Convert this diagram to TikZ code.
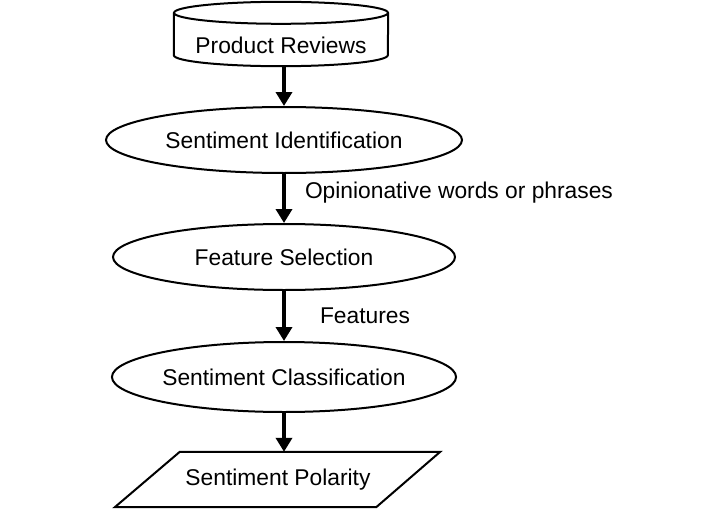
\documentclass[tikz,border=0pt]{standalone}
\usepackage{fontspec}
\setmainfont{Liberation Sans}
\usetikzlibrary{shapes.geometric,arrows.meta}

\begin{document}
\begin{tikzpicture}[x=1pt,y=-1pt,
  every node/.style={font=\fontsize{22.8}{27}\selectfont},
  proc/.style={ellipse,draw,line width=2pt,inner sep=0pt},
  box/.style={inner sep=0pt},
  lbl/.style={inner sep=0pt,anchor=west},
  flow/.style={-{Triangle[width=16pt,length=14pt]},line width=4pt}]
\useasboundingbox (0,0) rectangle (717,527);

\node[box,minimum width=214pt,minimum height=42pt] (rev) at (281,45) {Product Reviews};
\draw[line width=2pt] ([yshift=11pt]rev.north) ellipse [x radius=107pt, y radius=11pt];
\draw[line width=2pt] ([yshift=11pt]rev.north west) -- ([yshift=11pt]rev.south west)
  arc[start angle=180, end angle=360, x radius=107pt, y radius=11pt] -- ([yshift=11pt]rev.north east);

\node[proc,minimum width=356pt,minimum height=66pt] (ident) at (284,140) {Sentiment Identification};
\node[proc,minimum width=342pt,minimum height=66pt] (feat) at (284,257) {Feature Selection};
\node[proc,minimum width=341pt,minimum height=70pt] (clas) at (284,377) {Sentiment Classification};

\node[box,minimum width=196pt,minimum height=55pt] (pol) at (278,479.5) {Sentiment Polarity};
\draw[line width=2pt] (pol.north west) -- ([xshift=64pt]pol.north east)
  -- (pol.south east) -- ([xshift=-65pt]pol.south west) -- cycle;

\draw[flow] (rev.south -| ident.north) -- (ident.north);
\draw[flow] (ident.south) -- (feat.north)
  node[lbl,midway,xshift=19pt,yshift=5.5pt] (opin) {Opinionative words or phrases};
\draw[flow] (feat.south) -- (clas.north)
  node[lbl,midway,xshift=34pt] (fts) {Features};
\draw[flow] (clas.south) -- (clas.south |- pol.north);

\end{tikzpicture}
\end{document}
